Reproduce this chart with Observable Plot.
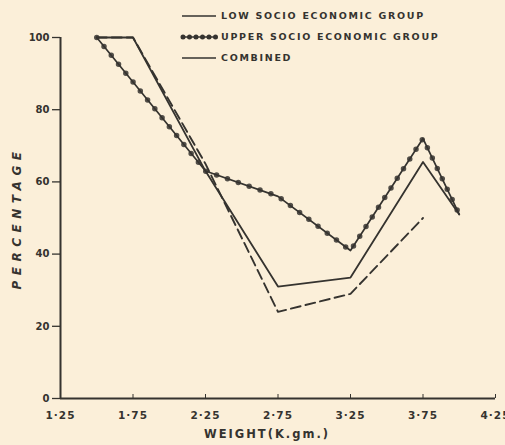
<!DOCTYPE html>
<html>
<head>
<meta charset="utf-8">
<script src="https://cdn.jsdelivr.net/npm/d3@7"></script>
<script src="https://cdn.jsdelivr.net/npm/@observablehq/plot@0.6"></script>
<style>
  html, body { margin: 0; padding: 0; background: #fbefd9; }
  #wrap { position: relative; width: 505px; height: 445px; overflow: hidden; background: #fbefd9; }
  #legend { position: absolute; left: 180px; top: 5px; font-family: "DejaVu Sans", sans-serif; font-weight: bold; font-size: 9.5px; letter-spacing: 1.7px; color: #35332f; }
  #legend .row { display: flex; align-items: center; height: 21px; white-space: nowrap; }
  #legend svg { margin-right: 3px; }
</style>
</head>
<body>
<div id="wrap">
  <div id="chart"></div>
  <div id="legend"></div>
</div>
<script>
// Data
const weights  = [1.5, 1.75, 2.25, 2.75, 3.25, 3.75, 4.0];
const low      = [100, 100, 65, 24, 29, 50, null];
const upper    = [100, null, 63, 56, 41, 72, 51];
const combined = [100, 100, 63, 31, 33.5, 65.5, 51];

const xTicks = [1.25, 1.75, 2.25, 2.75, 3.25, 3.75, 4.25];
const yTicks = [0, 20, 40, 60, 80, 100];
const seriesNames = ["LOW SOCIO ECONOMIC GROUP", "UPPER SOCIO ECONOMIC GROUP", "COMBINED"];
const xTitle = "WEIGHT(K.gm.)";
const yTitle = "PERCENTAGE";

const ink = "#35332f";
const toRows = (vals) => weights.map((w, i) => ({w, v: vals[i]})).filter(d => d.v != null);
const lowData = toRows(low), upperData = toRows(upper), combData = toRows(combined);
const fmtX = d => d.toFixed(2).replace(".", "·");

const chart = Plot.plot({
  width: 505,
  height: 445,
  marginLeft: 60,
  marginRight: 10,
  marginTop: 37,
  marginBottom: 47,
  style: {background: "transparent", color: ink, fontFamily: "DejaVu Sans, sans-serif", fontWeight: "bold", fontSize: "10px"},
  x: {domain: [1.25, 4.25]},
  y: {domain: [0, 100]},
  marks: [
    Plot.axisY({ticks: yTicks, tickSize: 8, tickPadding: 3, label: null, stroke: ink, strokeWidth: 1.3, fontSize: 10}),
    Plot.axisX({ticks: xTicks, tickSize: 0, tickPadding: 13, label: null, fontSize: 10.5, tickFormat: fmtX}),
    Plot.axisX({ticks: xTicks, tickSize: 4, dy: -4, label: null, tickFormat: () => "", stroke: ink}),
    Plot.ruleY([0], {stroke: ink, strokeWidth: 2}),
    Plot.ruleX([1.25], {stroke: ink, strokeWidth: 2}),
    Plot.line(lowData, {x: "w", y: "v", stroke: ink, strokeWidth: 1.9, strokeDasharray: "10 5"}),
    Plot.line(combData, {x: "w", y: "v", stroke: ink, strokeWidth: 1.8}),
    Plot.line(upperData, {x: "w", y: "v", stroke: ink, strokeWidth: 1.7}),
    Plot.line(upperData, {x: "w", y: "v", stroke: ink, strokeWidth: 5.5, strokeDasharray: "0 11.5", strokeLinecap: "round", strokeOpacity: 0.85}),
    Plot.text([xTitle], {frameAnchor: "bottom", dx: -11, dy: 39, fontSize: 11.5, fill: ink, fontWeight: "bold"}),
    Plot.text([yTitle], {frameAnchor: "left", textAnchor: "middle", dx: -43, dy: 0, rotate: -90, fontSize: 12, fill: ink, fontStyle: "italic", fontWeight: "bold"})
  ]
});
const xLabelSet = new Set(xTicks.map(fmtX));
chart.querySelectorAll("text").forEach(t => {
  const s = t.textContent;
  if (s === xTitle) t.style.letterSpacing = "2px";
  else if (s === yTitle) t.style.letterSpacing = "5.5px";
  else if (xLabelSet.has(s)) t.style.letterSpacing = "1px";
});
document.getElementById("chart").appendChild(chart);

// Legend
const legend = d3.select("#legend");
const beads = [false, true, false];
seriesNames.forEach((name, i) => {
  const row = legend.append("div").attr("class", "row");
  const s = row.append("svg").attr("width", 38).attr("height", 10);
  s.append("line").attr("x1", 2).attr("x2", 36).attr("y1", 5).attr("y2", 5)
    .attr("stroke", ink).attr("stroke-width", 1.7);
  if (beads[i]) {
    s.append("line").attr("x1", 3).attr("x2", 37).attr("y1", 5).attr("y2", 5)
      .attr("stroke", ink).attr("stroke-width", 5).attr("stroke-dasharray", "0 6.5").attr("stroke-linecap", "round");
  }
  row.append("span").text(name);
});
</script>
</body>
</html>
